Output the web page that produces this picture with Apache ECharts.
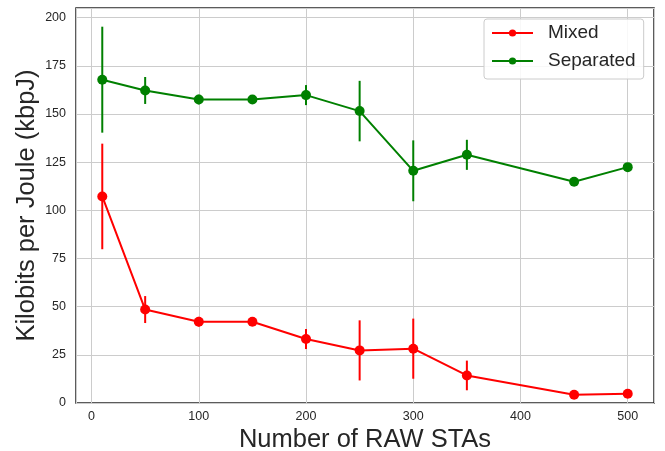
<!DOCTYPE html>
<html>
<head>
<meta charset="utf-8">
<script src="https://cdn.jsdelivr.net/npm/echarts@6/dist/echarts.min.js"></script>
<style>html,body{margin:0;padding:0;background:#fff}#c{width:665px;height:451px}</style>
</head>
<body>
<div id="c"></div>
<script>
var xs = [10, 50, 100, 150, 200, 250, 300, 350, 450, 500];
var mixed = [107.2, 48.5, 42.2, 42.2, 33.2, 27.3, 28.2, 14.3, 4.3, 4.8];
var mixedErr = [27.4, 7, 2.5, 1, 5.2, 15.6, 15.6, 7.7, 0.5, 0.5];
var separated = [167.8, 162.2, 157.5, 157.5, 159.8, 151.5, 120.5, 128.8, 114.8, 122.4];
var separatedErr = [27.5, 7, 2.5, 1, 5.2, 15.7, 15.8, 7.8, 1, 1];
var seriesNames = ['Mixed', 'Separated'];
var xTitle = 'Number of RAW STAs';
var yTitle = 'Kilobits per Joule (kbpJ)';

var font = "'Liberation Sans', Arial, sans-serif";
function pts(v) { return xs.map(function (x, i) { return [x, v[i]]; }); }
function errs(v, e) { return xs.map(function (x, i) { return [x, v[i] - e[i], v[i] + e[i]]; }); }
function errSeries(color, data) {
  return {
    type: 'custom', data: data, silent: true, z: 3,
    encode: { x: 0, y: [1, 2] },
    renderItem: function (params, api) {
      var a = api.coord([api.value(0), api.value(1)]);
      var b = api.coord([api.value(0), api.value(2)]);
      return { type: 'line', shape: { x1: a[0], y1: a[1], x2: b[0], y2: b[1] },
        style: { stroke: color, lineWidth: 2 } };
    }
  };
}
var chart = echarts.init(document.getElementById('c'), null, { renderer: 'canvas' });
chart.setOption({
  animation: false,
  backgroundColor: '#fff',
  textStyle: { fontFamily: font },
  grid: { left: 76, right: 11, top: 8, bottom: 48, containLabel: false, outerBoundsMode: 'none',
    show: true, borderColor: '#262626', borderWidth: 1.5, backgroundColor: 'transparent' },
  legend: {
    left: 484, top: 19, orient: 'vertical',
    data: seriesNames,
    itemWidth: 41, itemHeight: 9, itemGap: 6,
    padding: [3, 8, 7, 7],
    borderColor: '#cccccc', borderWidth: 1, borderRadius: 3, backgroundColor: 'rgba(255,255,255,0.85)',
    textStyle: { fontSize: 19, color: '#262626', fontFamily: font, lineHeight: 22, padding: [0, 0, 0, 10] }
  },
  xAxis: {
    type: 'value', min: -14.5, max: 524.5,
    name: xTitle, nameLocation: 'middle', nameGap: 24, nameMoveOverlap: false,
    nameTextStyle: { fontSize: 25.5, color: '#262626', fontFamily: font },
    axisLine: { show: false }, axisTick: { show: false },
    axisLabel: { fontSize: 12.5, color: '#262626', margin: 7, showMinLabel: false, showMaxLabel: false, fontFamily: font },
    splitLine: { show: true, lineStyle: { color: '#cccccc', width: 1 } }
  },
  yAxis: {
    type: 'value', min: 0, max: 205, interval: 25,
    name: yTitle, nameLocation: 'middle', nameGap: 36, nameMoveOverlap: false,
    nameTextStyle: { fontSize: 25.5, color: '#262626', fontFamily: font },
    axisLine: { show: false }, axisTick: { show: false },
    axisLabel: { fontSize: 12.5, color: '#262626', margin: 10, showMaxLabel: false, fontFamily: font },
    splitLine: { show: true, lineStyle: { color: '#cccccc', width: 1 } }
  },
  series: [
    { name: seriesNames[0], type: 'line', data: pts(mixed), color: '#ff0000', symbol: 'circle', symbolSize: 10,
      lineStyle: { width: 2 }, z: 4 },
    { name: seriesNames[1], type: 'line', data: pts(separated), color: '#008000', symbol: 'circle', symbolSize: 10,
      lineStyle: { width: 2 }, z: 4 },
    errSeries('#ff0000', errs(mixed, mixedErr)),
    errSeries('#008000', errs(separated, separatedErr))
  ]
});
</script>
</body>
</html>
